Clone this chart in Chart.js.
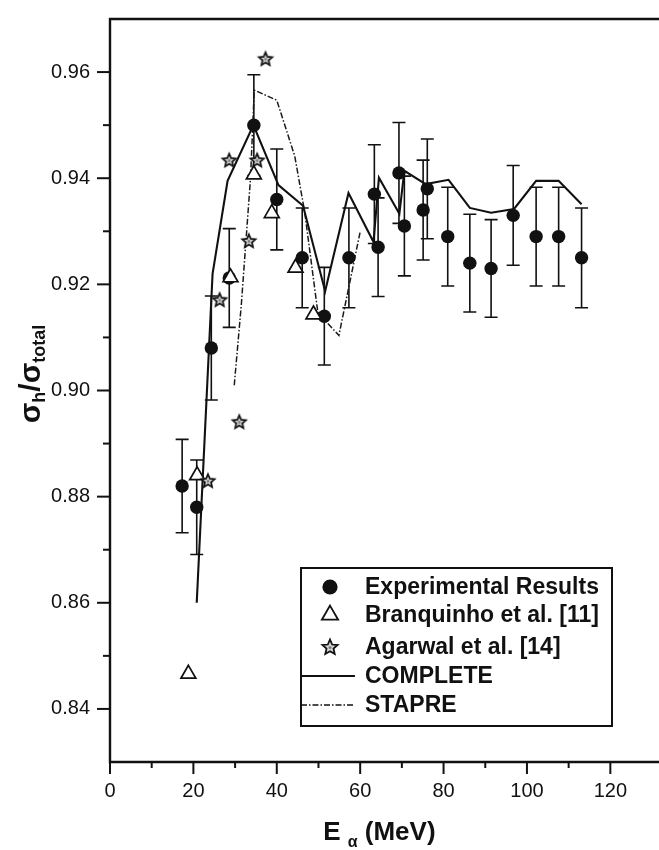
<!DOCTYPE html>
<html>
<head>
<meta charset="utf-8">
<script src="https://cdn.jsdelivr.net/npm/chart.js@4.4.0/dist/chart.umd.min.js"></script>
<style>
  html, body { margin: 0; padding: 0; background: #ffffff; }
  #c { display: block; }
</style>
</head>
<body>
<canvas id="c" width="659" height="850"></canvas>
<script>
// ---------------- DATA ----------------
// Experimental results (filled circles with error bars)
const expEnergy = [17.3, 20.8, 24.3, 28.6, 34.5, 40.0, 46.1, 51.4, 57.3, 63.4, 64.3, 69.3, 70.6, 75.1, 76.1, 81.0, 86.3, 91.4, 96.7, 102.2, 107.6, 113.1];
const expRatio  = [0.882, 0.878, 0.908, 0.9212, 0.950, 0.936, 0.925, 0.914, 0.925, 0.937, 0.927, 0.941, 0.931, 0.934, 0.938, 0.929, 0.924, 0.923, 0.933, 0.929, 0.929, 0.925];
const expError  = [0.0088, 0.0089, 0.0098, 0.0093, 0.0095, 0.0095, 0.0094, 0.0092, 0.0094, 0.0093, 0.0093, 0.0095, 0.0094, 0.0094, 0.0094, 0.0093, 0.0092, 0.0092, 0.0094, 0.0093, 0.0093, 0.0094];

// Branquinho et al. [11] (open triangles)
const branEnergy = [18.8, 20.9, 28.9, 34.5, 38.8, 44.5, 48.8];
const branRatio  = [0.8466, 0.884, 0.9213, 0.9407, 0.9334, 0.9231, 0.9143];

// Agarwal et al. [14] (stars)
const agarEnergy = [23.5, 26.3, 28.6, 31.0, 33.3, 35.3, 37.3];
const agarRatio  = [0.883, 0.9171, 0.9434, 0.8941, 0.9282, 0.9434, 0.9625];

// COMPLETE calculation (solid line)
const completeEnergy = [20.8, 24.6, 28.2, 34.4, 40.4, 46.3, 51.6, 57.2, 63.2, 64.5, 69.4, 70.6, 75.7, 81.2, 86.3, 91.4, 96.9, 102.2, 107.6, 113.1];
const completeRatio  = [0.860, 0.922, 0.9395, 0.950, 0.9387, 0.9348, 0.9187, 0.9372, 0.928, 0.9401, 0.9333, 0.9414, 0.9389, 0.9397, 0.9344, 0.9335, 0.9342, 0.9395, 0.9395, 0.9351];

// STAPRE calculation (dash-dot line)
const stapreEnergy = [29.8, 31.5, 33.7, 34.6, 40.0, 44.3, 46.7, 49.8, 51.8, 54.9, 60.0];
const stapreRatio  = [0.901, 0.9162, 0.940, 0.9566, 0.9547, 0.9442, 0.9336, 0.915, 0.913, 0.9104, 0.9299];

// Series names and tick labels
const seriesNames = ['Experimental Results', 'Branquinho et al. [11]', 'Agarwal et al. [14]', 'COMPLETE', 'STAPRE'];
const xTickLabels = ['0', '20', '40', '60', '80', '100', '120'];
const yTickLabels = ['0.84', '0.86', '0.88', '0.90', '0.92', '0.94', '0.96'];

// ---------------- STYLE ----------------
const FONT = '"Liberation Sans", Arial, Helvetica, sans-serif';
const INK = '#111111';

function pts(xs, ys) { return xs.map((x, i) => ({ x: x, y: ys[i] })); }

function makeStar(outer, lw) {
  const size = Math.ceil(outer * 2 + lw * 2 + 2);
  const c = document.createElement('canvas');
  c.width = size; c.height = size;
  const g = c.getContext('2d');
  const cx = size / 2, cy = size / 2 + 0.5;
  const inner = outer * 0.46;
  g.beginPath();
  for (let k = 0; k < 10; k++) {
    const r = (k % 2) ? inner : outer;
    const a = -Math.PI / 2 + k * Math.PI / 5;
    const px = cx + r * Math.cos(a), py = cy + r * Math.sin(a);
    if (k === 0) g.moveTo(px, py); else g.lineTo(px, py);
  }
  g.closePath();
  g.fillStyle = '#d6d6d6';
  g.fill();
  g.lineWidth = lw;
  g.strokeStyle = INK;
  g.lineJoin = 'miter';
  g.stroke();
  g.beginPath();
  g.arc(cx, cy, outer * 0.2, 0, Math.PI * 2);
  g.fillStyle = '#808080';
  g.fill();
  return c;
}
const starImg = makeStar(7, 1.7);
const starImgLegend = makeStar(8, 1.8);

// ---------------- PLUGINS ----------------
const errorBarPlugin = {
  id: 'errorBars',
  beforeDatasetsDraw(chart) {
    const { ctx, scales: { x, y } } = chart;
    ctx.save();
    ctx.strokeStyle = INK;
    ctx.lineWidth = 1.6;
    const cap = 6.5;
    for (let i = 0; i < expEnergy.length; i++) {
      const px = x.getPixelForValue(expEnergy[i]);
      const pTop = y.getPixelForValue(expRatio[i] + expError[i]);
      const pBot = y.getPixelForValue(expRatio[i] - expError[i]);
      ctx.beginPath();
      ctx.moveTo(px, pTop); ctx.lineTo(px, pBot);
      ctx.moveTo(px - cap, pTop); ctx.lineTo(px + cap, pTop);
      ctx.moveTo(px - cap, pBot); ctx.lineTo(px + cap, pBot);
      ctx.stroke();
    }
    ctx.restore();
  }
};

const framePlugin = {
  id: 'frame',
  afterDatasetsDraw(chart) {
    const { ctx, chartArea: a, scales: { x, y } } = chart;
    ctx.save();
    ctx.strokeStyle = INK;
    ctx.lineWidth = 2.4;
    ctx.lineCap = 'square';
    ctx.beginPath();
    ctx.moveTo(chart.width + 2, a.top); ctx.lineTo(a.left, a.top);
    ctx.lineTo(a.left, a.bottom); ctx.lineTo(chart.width + 2, a.bottom);
    ctx.stroke();
    ctx.lineWidth = 2;
    ctx.lineCap = 'butt';
    // x tick marks
    x.ticks.forEach(t => {
      const lbl = String(Math.round(t.value));
      const major = xTickLabels.includes(lbl) && Math.abs(t.value - Math.round(t.value)) < 1e-6;
      const px = x.getPixelForValue(t.value);
      ctx.beginPath();
      ctx.moveTo(px, a.bottom);
      ctx.lineTo(px, a.bottom + (major ? 12 : 6));
      ctx.stroke();
    });
    // y tick marks
    y.ticks.forEach(t => {
      if (t.value <= y.min + 1e-9 || t.value >= y.max - 1e-9) return;
      const major = yTickLabels.includes(t.value.toFixed(2));
      const py = y.getPixelForValue(t.value);
      ctx.beginPath();
      ctx.moveTo(a.left, py);
      ctx.lineTo(a.left - (major ? 13 : 7), py);
      ctx.stroke();
    });
    ctx.restore();
  }
};

const legendBox = { left: 301, top: 568, right: 612, bottom: 726, symX: 330, textX: 365, rows: [587, 615, 647, 676, 705] };

const legendPlugin = {
  id: 'customLegend',
  afterDraw(chart) {
    const ctx = chart.ctx;
    const L = legendBox;
    ctx.save();
    ctx.fillStyle = '#ffffff';
    ctx.fillRect(L.left, L.top, L.right - L.left, L.bottom - L.top);
    ctx.strokeStyle = INK;
    ctx.lineWidth = 2;
    ctx.strokeRect(L.left, L.top, L.right - L.left, L.bottom - L.top);

    // circle
    ctx.beginPath();
    ctx.arc(L.symX, L.rows[0], 7.6, 0, Math.PI * 2);
    ctx.fillStyle = INK; ctx.fill();
    // triangle
    const r = 9.4, ty = L.rows[1];
    ctx.beginPath();
    ctx.moveTo(L.symX, ty - r);
    ctx.lineTo(L.symX + r * Math.sin(2 * Math.PI / 3), ty - r * Math.cos(2 * Math.PI / 3));
    ctx.lineTo(L.symX + r * Math.sin(4 * Math.PI / 3), ty - r * Math.cos(4 * Math.PI / 3));
    ctx.closePath();
    ctx.fillStyle = '#fff'; ctx.fill();
    ctx.lineWidth = 1.8; ctx.strokeStyle = INK; ctx.stroke();
    // star
    ctx.drawImage(starImgLegend, L.symX - starImgLegend.width / 2, L.rows[2] - starImgLegend.height / 2);
    // solid line
    ctx.beginPath();
    ctx.moveTo(L.left, L.rows[3]); ctx.lineTo(L.left + 54, L.rows[3]);
    ctx.lineWidth = 2; ctx.stroke();
    // dash-dot line
    ctx.beginPath();
    ctx.setLineDash([6, 2, 1.5, 2]);
    ctx.moveTo(L.left, L.rows[4]); ctx.lineTo(L.left + 54, L.rows[4]);
    ctx.lineWidth = 1.3; ctx.stroke();
    ctx.setLineDash([]);

    ctx.fillStyle = INK;
    ctx.font = 'bold 23px ' + FONT;
    ctx.textAlign = 'left';
    ctx.textBaseline = 'middle';
    seriesNames.forEach((n, i) => ctx.fillText(n, L.textX, L.rows[i] + 1));
    ctx.restore();
  }
};

const titlePlugin = {
  id: 'axisTitles',
  afterDraw(chart) {
    const ctx = chart.ctx;
    const a = chart.chartArea;
    ctx.save();
    ctx.fillStyle = INK;
    ctx.textBaseline = 'alphabetic';
    ctx.textAlign = 'left';
    // X title: E_alpha (MeV)
    const big = 'bold 26px ' + FONT, small = 'bold 16px ' + FONT;
    const parts = [
      { t: 'E', f: big, dy: 0 },
      { t: ' ', f: big, dy: 0 },
      { t: 'α', f: small, dy: 7 },
      { t: ' (MeV)', f: big, dy: 0 }
    ];
    let w = 0;
    parts.forEach(p => { ctx.font = p.f; p.w = ctx.measureText(p.t).width; w += p.w; });
    let x0 = (a.left + a.right) / 2 - w / 2;
    const yb = 840;
    parts.forEach(p => { ctx.font = p.f; ctx.fillText(p.t, x0, yb + p.dy); x0 += p.w; });

    // Y title: sigma_h / sigma_total (rotated)
    const yb2 = 'bold 30px ' + FONT, ys2 = 'bold 18px ' + FONT;
    const yparts = [
      { t: 'σ', f: yb2, dy: 0 },
      { t: 'h', f: ys2, dy: 5 },
      { t: '/σ', f: yb2, dy: 0 },
      { t: 'total', f: ys2, dy: 5 }
    ];
    let wy = 0;
    yparts.forEach(p => { ctx.font = p.f; p.w = ctx.measureText(p.t).width; wy += p.w; });
    ctx.translate(40, 374);
    ctx.rotate(-Math.PI / 2);
    let s0 = -wy / 2;
    yparts.forEach(p => { ctx.font = p.f; ctx.fillText(p.t, s0, p.dy); s0 += p.w; });
    ctx.restore();
  }
};

// ---------------- CHART ----------------
const ctx = document.getElementById('c').getContext('2d');
new Chart(ctx, {
  type: 'scatter',
  data: {
    datasets: [
      {
        label: seriesNames[2],
        data: pts(agarEnergy, agarRatio),
        pointStyle: starImg,
        showLine: false,
        order: 0
      },
      {
        label: seriesNames[1],
        data: pts(branEnergy, branRatio),
        pointStyle: 'triangle',
        pointRadius: 8.6,
        pointBackgroundColor: '#ffffff',
        pointBorderColor: INK,
        pointBorderWidth: 1.7,
        showLine: false,
        order: 1
      },
      {
        label: seriesNames[0],
        data: pts(expEnergy, expRatio),
        pointStyle: 'circle',
        pointRadius: 6.7,
        pointBackgroundColor: INK,
        pointBorderColor: INK,
        pointBorderWidth: 0,
        showLine: false,
        order: 2
      },
      {
        label: seriesNames[3],
        data: pts(completeEnergy, completeRatio),
        showLine: true,
        pointRadius: 0,
        borderColor: INK,
        borderWidth: 2.1,
        tension: 0,
        fill: false,
        order: 3
      },
      {
        label: seriesNames[4],
        data: pts(stapreEnergy, stapreRatio),
        showLine: true,
        pointRadius: 0,
        borderColor: '#1a1a1a',
        borderWidth: 1.5,
        borderDash: [6, 2, 1.5, 2],
        tension: 0,
        fill: false,
        order: 4
      }
    ]
  },
  options: {
    responsive: false,
    animation: false,
    devicePixelRatio: 1,
    events: [],
    layout: { padding: { top: 9, right: 0, left: 0, bottom: 0 } },
    plugins: { legend: { display: false }, tooltip: { enabled: false } },
    scales: {
      x: {
        type: 'linear',
        position: 'bottom',
        min: 0,
        max: 129.2,
        bounds: 'data',
        afterFit: s => { s.height = 88; },
        grid: { display: false, drawTicks: true, tickLength: 13 },
        border: { display: false },
        ticks: {
          stepSize: 10,
          autoSkip: false,
          maxRotation: 0,
          minRotation: 0,
          includeBounds: false,
          padding: 4,
          color: INK,
          font: { family: FONT, size: 20 },
          callback: (v) => {
            const s = String(Math.round(v));
            return (Math.abs(v - Math.round(v)) < 1e-6 && xTickLabels.includes(s)) ? s : '';
          }
        }
      },
      y: {
        type: 'linear',
        min: 0.83,
        max: 0.97,
        bounds: 'data',
        afterFit: s => { s.width = 110; },
        grid: { display: false, drawTicks: true, tickLength: 13 },
        border: { display: false },
        ticks: {
          stepSize: 0.01,
          maxTicksLimit: 100,
          autoSkip: false,
          padding: 7,
          color: INK,
          font: { family: FONT, size: 20 },
          callback: (v) => {
            const s = Number(v).toFixed(2);
            return yTickLabels.includes(s) ? s : '';
          }
        }
      }
    }
  },
  plugins: [errorBarPlugin, framePlugin, legendPlugin, titlePlugin]
});
</script>
</body>
</html>
